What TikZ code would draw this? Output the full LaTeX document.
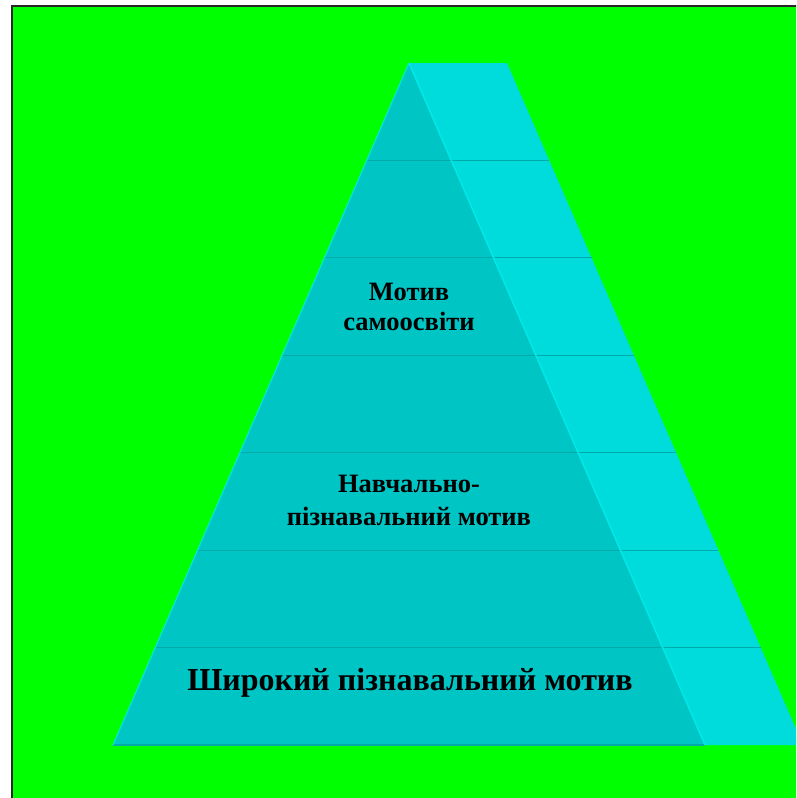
\documentclass[tikz,border=0pt]{standalone}
\usepackage{fontspec}
\setmainfont{Liberation Serif}
\begin{document}
\begin{tikzpicture}[x=1pt,y=-1pt,
  front/.style={fill=frontc},
  side/.style={fill=sidec},
  level/.style={draw=linec,line width=1.2pt},
  hilite/.style={draw=hic,line width=1.5pt},
  lbl/.style={font=\bfseries, text=black, align=center, inner sep=0pt}]
\definecolor{bgc}{RGB}{0,255,0}
\definecolor{frontc}{RGB}{0,197,197}
\definecolor{sidec}{RGB}{0,220,220}
\definecolor{linec}{RGB}{0,170,170}
\definecolor{hic}{RGB}{0,232,232}
\useasboundingbox (0,0) rectangle (796,798);
\clip (0,0) rectangle (796,798);
\fill[white] (0,0) rectangle (796,798);
\fill[bgc] (12,6) rectangle (810,810);
\draw[black!85,line width=2pt] (12,810) -- (12,6) -- (810,6);
% pyramid corners
\coordinate (A) at (409,63);
\coordinate (B) at (507,63);
\coordinate (L) at (113,745);
\coordinate (R) at (705,745);
\coordinate (S) at (803,745);
\fill[side] (A) -- (B) -- (S) -- (R) -- cycle;
\fill[front] (A) -- (R) -- (L) -- cycle;
% level lines
\foreach \k in {1,...,6}{
  \pgfmathsetmacro{\yy}{63+\k*97.43}
  \pgfmathsetmacro{\xl}{409-\k*42.29}
  \pgfmathsetmacro{\xs}{507+\k*42.29}
  \draw[level] (\xl,\yy) -- (\xs,\yy);
}
\draw[level] (L) -- (R);
\draw[hilite] (A) -- (R);
\draw[draw=hic,line width=1pt] (A) -- (L);
% labels
\node[lbl,font=\bfseries\fontsize{26.5}{30}\selectfont] (t1) at (409,307) {Мотив\\самоосвіти};
\node[lbl,font=\bfseries\fontsize{26.5}{33}\selectfont] (t2) at (409,500) {Навчально-\\пізнавальний мотив};
\node[lbl,font=\bfseries\fontsize{32}{38}\selectfont] (t3) at (410,683) {Широкий пізнавальний мотив};
\end{tikzpicture}
\end{document}
